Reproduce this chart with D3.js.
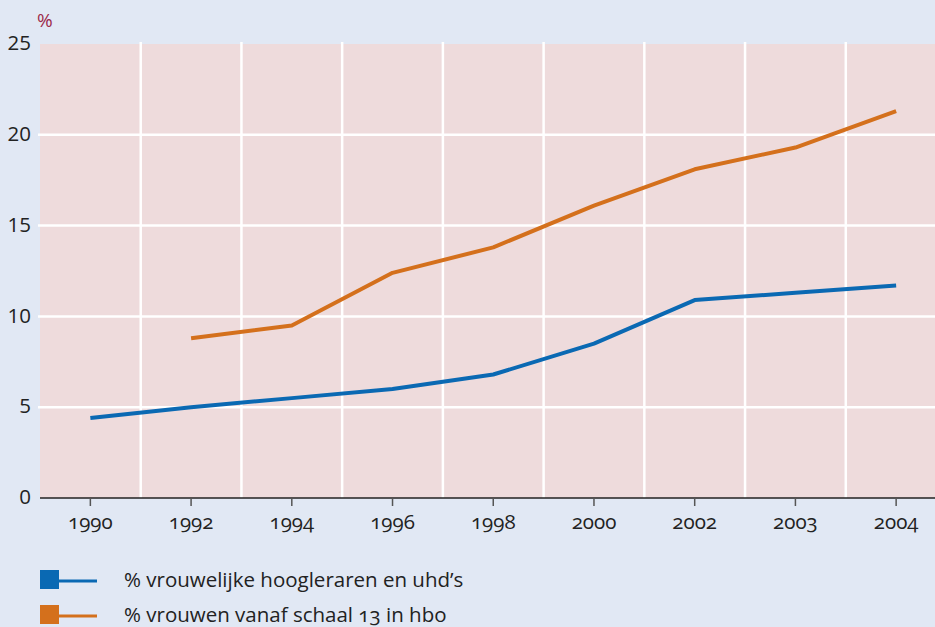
<!DOCTYPE html>
<html>
<head>
<meta charset="utf-8">
<script src="https://cdn.jsdelivr.net/npm/d3@7"></script>
<style>
  html, body { margin: 0; padding: 0; background: #e1e8f4; }
  svg { display: block; font-family: "Open Sans", Lato, sans-serif; }
  .num { font-variant-numeric: oldstyle-nums; }
</style>
</head>
<body>
<div id="chart"></div>
<script>
"use strict";

const years = ["1990", "1992", "1994", "1996", "1998", "2000", "2002", "2003", "2004"];
const hoogleraren = [4.4, 5.0, 5.5, 6.0, 6.8, 8.5, 10.9, 11.3, 11.7];
const hbo = [null, 8.8, 9.5, 12.4, 13.8, 16.1, 18.1, 19.3, 21.3];
const yTicks = [0, 5, 10, 15, 20, 25];
const seriesNames = ["% vrouwelijke hoogleraren en uhd’s", "% vrouwen vanaf schaal 13 in hbo"];
const seriesColors = ["#0a69b3", "#d4701c"];

const width = 935, height = 627;
const margin = {top: 44, left: 40, bottom: 129};
const plotRight = 946.5;
const plotBottom = height - margin.bottom;
const fontSize = "20.5px";

const svg = d3.select("#chart").append("svg")
    .attr("width", width)
    .attr("height", height);

svg.append("rect")
    .attr("width", width).attr("height", height)
    .attr("fill", "#e1e8f4");

const x = d3.scaleBand()
    .domain(years)
    .range([margin.left, plotRight]);

const y = d3.scaleLinear()
    .domain([0, 25])
    .range([plotBottom, margin.top]);

// plot background
svg.append("rect")
    .attr("x", margin.left)
    .attr("y", y(25))
    .attr("width", plotRight - margin.left)
    .attr("height", y(0) - y(25))
    .attr("fill", "#eedbdc");

// horizontal grid
svg.append("g")
    .selectAll("line")
    .data(yTicks.filter(d => d > 0 && d < 25))
    .join("line")
    .attr("x1", margin.left - 2)
    .attr("x2", plotRight)
    .attr("y1", d => y(d))
    .attr("y2", d => y(d))
    .attr("stroke", "#fff")
    .attr("stroke-width", 2.5);

// vertical grid at band edges
svg.append("g")
    .selectAll("line")
    .data(years.slice(1))
    .join("line")
    .attr("x1", d => x(d))
    .attr("x2", d => x(d))
    .attr("y1", y(25) - 2)
    .attr("y2", y(0))
    .attr("stroke", "#fff")
    .attr("stroke-width", 2.5);

// x axis
const xAxis = svg.append("g")
    .attr("transform", "translate(0," + plotBottom + ")")
    .call(d3.axisBottom(x).tickSize(8).tickPadding(8));
xAxis.select(".domain").attr("stroke", "#222").attr("stroke-width", 1.5)
    .attr("d", "M" + margin.left + ",0H" + plotRight);
xAxis.selectAll(".tick line").attr("stroke", "#555").attr("stroke-width", 1.5);
xAxis.selectAll(".tick text")
    .attr("class", "num")
    .attr("fill", "#222")
    .style("font-size", fontSize)
    .style("font-family", "'Open Sans', sans-serif");

// y axis labels
svg.append("g")
    .selectAll("text")
    .data(yTicks)
    .join("text")
    .attr("x", 31)
    .attr("y", d => y(d))
    .attr("dy", "0.3em")
    .attr("text-anchor", "end")
    .attr("fill", "#222")
    .style("font-size", fontSize)
    .text(d => d);

svg.append("text")
    .attr("x", 37)
    .attr("y", 27)
    .attr("fill", "#9c2a4a")
    .style("font-size", "19px")
    .text("%");

// lines
const line = d3.line()
    .defined(d => d.v != null)
    .x(d => x(d.year) + x.bandwidth() / 2)
    .y(d => y(d.v));

[hoogleraren, hbo].forEach((vals, i) => {
    svg.append("path")
        .datum(years.map((yr, j) => ({year: yr, v: vals[j]})))
        .attr("fill", "none")
        .attr("stroke", seriesColors[i])
        .attr("stroke-width", 4)
        .attr("stroke-linejoin", "round")
        .attr("d", line);
});

// legend
const legend = svg.append("g")
    .selectAll("g")
    .data(seriesNames)
    .join("g")
    .attr("transform", (d, i) => "translate(40," + (570 + i * 35) + ")");

legend.append("rect")
    .attr("width", 19).attr("height", 19)
    .attr("fill", (d, i) => seriesColors[i]);
legend.append("line")
    .attr("x1", 19).attr("x2", 57)
    .attr("y1", 11).attr("y2", 11)
    .attr("stroke", (d, i) => seriesColors[i])
    .attr("stroke-width", 3);
legend.append("text")
    .attr("class", "num")
    .attr("x", 84)
    .attr("y", 17)
    .attr("fill", "#222")
    .style("font-size", fontSize)
    .text(d => d);
</script>
</body>
</html>
